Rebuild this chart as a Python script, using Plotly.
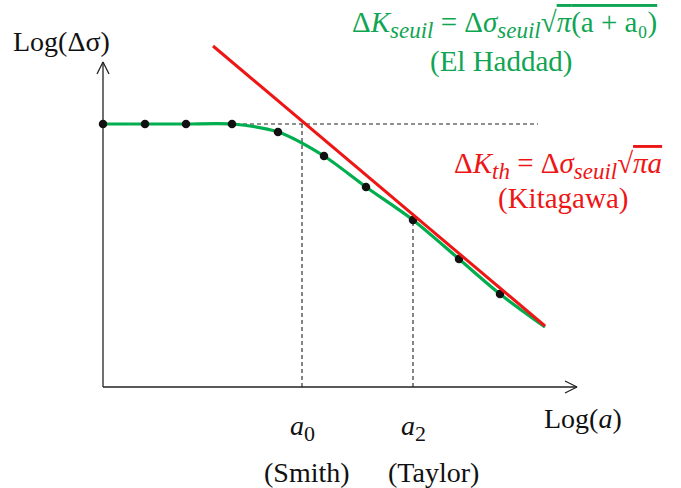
import plotly.graph_objects as go

# Schematic Kitagawa-Takahashi diagram (log-log units, origin at axes crossing)
x_points = [0.0, 0.42, 0.83, 1.29, 1.75, 2.21, 2.63, 3.10, 3.56, 3.97]
y_points = [2.63, 2.63, 2.63, 2.63, 2.55, 2.31, 2.00, 1.67, 1.28, 0.93]
curve_end = (4.42, 0.60)
red_x = [1.10, 4.42]
red_y = [3.41, 0.61]
a0_x = 1.99
a2_x = 3.10
plateau_y = 2.63
plateau_end_x = 4.35
x_axis_end = 4.74
y_axis_end = 3.25

GREEN_LINE = "#00ad4f"
GREEN_TEXT = "#10a552"
RED = "#ee1515"
FONT = "Liberation Serif"

fig = go.Figure()

dash_style = dict(color="#222", width=1.1, dash="4px,3px")
fig.add_trace(go.Scatter(x=[0, plateau_end_x], y=[plateau_y, plateau_y], mode="lines",
                         line=dash_style, hoverinfo="skip"))
fig.add_trace(go.Scatter(x=[a0_x, a0_x], y=[0, plateau_y], mode="lines",
                         line=dash_style, hoverinfo="skip"))
a2_y = y_points[x_points.index(a2_x)]
fig.add_trace(go.Scatter(x=[a2_x, a2_x], y=[0, a2_y], mode="lines",
                         line=dash_style, hoverinfo="skip"))

# axes
axis_style = dict(color="#222", width=1.3)
fig.add_trace(go.Scatter(x=[0, x_axis_end], y=[0, 0], mode="lines",
                         line=axis_style, hoverinfo="skip"))
fig.add_trace(go.Scatter(x=[0, 0], y=[0, y_axis_end], mode="lines",
                         line=axis_style, hoverinfo="skip"))
ah = 0.12
aw = 0.06
fig.add_trace(go.Scatter(x=[x_axis_end - ah, x_axis_end, x_axis_end - ah],
                         y=[aw, 0, -aw], mode="lines", line=axis_style, hoverinfo="skip"))
fig.add_trace(go.Scatter(x=[-aw, 0, aw],
                         y=[y_axis_end - ah, y_axis_end, y_axis_end - ah], mode="lines",
                         line=axis_style, hoverinfo="skip"))

# green El Haddad curve
fig.add_trace(go.Scatter(x=x_points + [curve_end[0]], y=y_points + [curve_end[1]], mode="lines",
                         line=dict(color=GREEN_LINE, width=3.2, shape="spline", smoothing=0.8),
                         hoverinfo="skip"))
# data points
fig.add_trace(go.Scatter(x=x_points, y=y_points, mode="markers",
                         marker=dict(color="#111", size=8.5), hoverinfo="skip"))
# red Kitagawa line
fig.add_trace(go.Scatter(x=red_x, y=red_y, mode="lines",
                         line=dict(color=RED, width=3), hoverinfo="skip"))

def ann(text, x, y, color="#111", size=27):
    fig.add_annotation(x=x, y=y, text=text, showarrow=False, xref="x", yref="y",
                       font=dict(family=FONT, size=size, color=color),
                       xanchor="center", yanchor="middle", align="center")

def sub(t, px=23):
    return f"<sub><span style='font-size:{px}px'>{t}</span></sub>"

ann("Log(Δσ)", -0.42, 3.46, size=28)
ann("Log(<i>a</i>)", 4.80, -0.31, size=28)
ann("<i>a</i>" + sub("0", 22), a0_x, -0.41, size=28)
ann("<i>a</i>" + sub("2", 22), a2_x, -0.41, size=28)
ann("(Smith)", 2.04, -0.85, size=28)
ann("(Taylor)", 3.30, -0.85, size=28)

ann("Δ<i>K</i>" + sub("<i>seuil</i>") + " = Δ<i>σ</i>" + sub("<i>seuil</i>") + "√"
    "<span style='text-decoration:overline'><i>π</i>(a + a₀)</span>",
    4.01, 3.63, GREEN_TEXT, size=29)
ann("(El Haddad)", 3.98, 3.26, GREEN_TEXT, size=29)
ann("Δ<i>K</i>" + sub("<i>th</i>") + " = Δ<i>σ</i>" + sub("<i>seuil</i>") + "√"
    "<span style='text-decoration:overline'><i>πa</i></span>",
    4.55, 2.22, RED, size=29)
ann("(Kitagawa)", 4.60, 1.89, RED, size=29)

fig.update_layout(
    width=681, height=488,
    margin=dict(l=0, r=0, t=0, b=0),
    paper_bgcolor="white", plot_bgcolor="white",
    showlegend=False,
    xaxis=dict(range=[-1.03, 5.78], visible=False, fixedrange=True),
    yaxis=dict(range=[-1.01, 3.87], visible=False, fixedrange=True),
)

fig.write_html("out.html", config={"displayModeBar": False},
               post_script="document.body.style.margin='0';")
